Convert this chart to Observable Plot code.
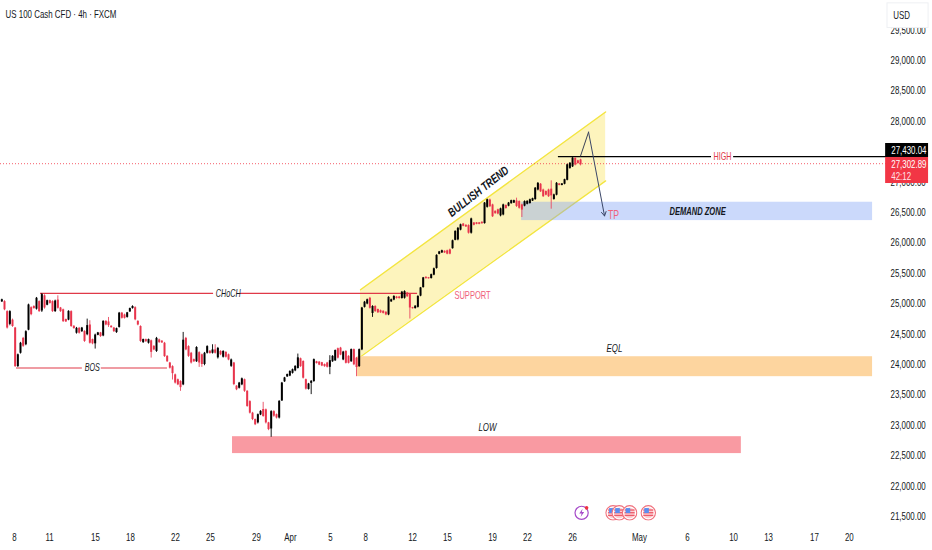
<!DOCTYPE html>
<html><head><meta charset="utf-8">
<style>html,body{margin:0;padding:0;background:#fff;overflow:hidden}svg{display:block}</style>
<script src="https://cdn.jsdelivr.net/npm/d3@7"></script>
<script src="https://cdn.jsdelivr.net/npm/@observablehq/plot@0.6"></script>
</head><body><div id="chart"></div>
<script>
const opens=[25030,25035,24870,24660,24730,24600,23965,24185,24430,24325,24565,24935,24955,24910,25035,24880,25130,24975,25050,25035,24870,25060,24930,24900,24740,24730,24870,24630,24515,24595,24540,24545,24490,24650,24410,24340,24480,24520,24470,24710,24700,24630,24600,24525,24610,24845,24815,24775,24865,24920,24935,24710,24625,24360,24410,24350,24390,24300,24215,24405,24385,24350,24135,24025,23965,23830,23750,23720,23665,24430,24295,24185,24080,24045,24195,24160,24000,24185,24220,24185,24240,24110,24215,24120,24200,24160,23970,24025,23645,23610,23665,23750,23560,23390,23200,23095,23040,23170,23260,23255,23040,22940,23225,23175,23120,23400,23715,23795,23810,23855,23895,23935,24095,24050,23750,23590,23690,23720,24045,24040,24030,24000,24025,23954,24045,24060,24260,24270,24075,24215,24135,24045,24245,24105,23965,24240,24940,24995,25090,24840,24955,24905,24885,24875,24860,24815,25030,25060,25110,25110,25085,25090,25175,25160,24935,24920,24940,25125,25265,25435,25428,25415,25470,25580,25812,25835,25862,25870,25885,25905,26042,26050,26210,26310,26290,26285,26160,26328,26330,26330,26340,26318,26585,26705,26625,26520,26545,26445,26460,26615,26605,26645,26655,26690,26680,26625,26605,26635,26648,26688,26712,26870,26965,26870,26845,26870,26884,26715,26785,26970,26945,26965,27030,27225,27250,27390,27350,27365];
const closes=[25065,24900,24600,24870,24625,23965,24160,24350,24300,24540,24980,24820,24920,25090,24870,25150,24930,25050,25005,24870,25045,24925,24870,24705,24700,24875,24625,24590,24595,24515,24600,24380,24640,24350,24340,24485,24520,24460,24710,24650,24640,24605,24540,24590,24845,24760,24760,24850,24920,24955,24735,24650,24380,24410,24375,24410,24200,24240,24430,24360,24355,24130,24045,23940,23850,23695,23665,23620,24400,24240,24135,24025,24045,24280,24025,24000,24185,24295,24180,24240,24185,24265,24160,24215,24120,24075,24075,23670,23585,23695,23765,23560,23310,23200,23095,23010,23175,23230,23145,23040,22930,23225,23150,23120,23395,23695,23780,23835,23885,23915,23970,24110,23965,23775,23595,23680,23725,24080,24015,23990,23975,23965,23955,24063,24135,24230,24105,24155,24205,24020,24020,24245,23995,23950,24245,24930,25025,25065,24925,24955,24870,24850,24850,24840,24815,25105,25065,25120,25085,25085,25190,25200,25115,24930,24918,24960,25120,25260,25425,25412,25410,25478,25575,25795,25852,25872,25835,25815,25815,26035,26190,26240,26298,26272,26262,26160,26395,26290,26305,26305,26315,26655,26710,26595,26430,26480,26475,26560,26625,26565,26655,26695,26695,26600,26570,26540,26680,26685,26710,26728,26900,26980,26840,26760,26785,26760,26774,26790,26980,26945,26970,27040,27285,27310,27395,27280,27305,27285];
const highs=[25075,25050,24885,24885,24747,24610,24172,24364,24446,24555,24993,24950,24966,25103,25048,25169,25147,25059,25059,25048,25059,25130,24939,24911,24747,24884,24884,24637,24610,24610,24610,24555,24747,24720,24418,24500,24528,24528,24720,24720,24774,24637,24610,24599,24857,24857,24829,24857,24928,24966,24950,24720,24637,24418,24418,24418,24402,24309,24446,24418,24391,24364,24145,24035,23980,23843,23761,23734,24528,24446,24309,24199,24090,24293,24210,24172,24199,24309,24227,24325,24325,24281,24227,24227,24210,24172,24090,24035,23652,23706,23778,23761,23570,23405,23214,23104,23186,23241,23378,23268,23049,23241,23241,23186,23405,23706,23789,23843,23898,23926,23980,24172,24106,24062,23761,23690,23735,24091,24052,24047,24036,24009,24036,24145,24145,24239,24271,24282,24217,24228,24145,24255,24255,24118,24255,24940,25038,25076,25104,24967,24967,24912,24896,24885,24868,25115,25076,25131,25120,25120,25202,25213,25186,25170,24940,24967,25131,25268,25432,25443,25432,25487,25586,25805,25860,25881,25870,25881,25898,26046,26199,26254,26309,26320,26298,26298,26407,26336,26336,26336,26347,26665,26720,26720,26637,26528,26555,26572,26637,26626,26665,26703,26703,26736,26692,26637,26692,26692,26720,26736,26911,26993,26977,26884,26856,26884,27021,26802,26993,26977,26977,27048,27295,27322,27404,27404,27360,27377];
const lows=[25020,24885,24583,24637,24610,23953,23953,24172,24282,24309,24555,24802,24911,24895,24857,24857,24911,24966,24993,24857,24857,24911,24857,24692,24692,24720,24610,24583,24500,24500,24528,24364,24473,24336,24325,24254,24473,24446,24457,24637,24610,24599,24528,24512,24599,24747,24747,24763,24857,24911,24720,24637,24364,24347,24364,24336,24106,24227,24199,24347,24347,24117,24035,23926,23745,23679,23652,23559,23652,24227,24117,24008,24035,24035,23953,23953,23980,24172,24172,24172,24172,24090,24145,24106,24106,24062,23953,23652,23570,23597,23652,23542,23296,23186,23077,22995,23022,23159,23132,23022,22912,22803,23132,23104,23104,23394,23706,23789,23800,23843,23882,23926,23953,23761,23580,23580,23505,23707,24009,23981,23965,23954,23943,23833,24036,24052,24091,24145,24063,24009,24009,24036,23981,23800,23954,24228,24929,24983,24912,24775,24857,24841,24841,24830,24803,24803,25022,25049,25076,25076,25076,25076,25104,24748,24912,24912,24929,25115,25257,25405,25405,25405,25460,25569,25805,25827,25827,25805,25805,25898,26035,26035,26199,26265,26254,26145,26145,26281,26298,26298,26309,26309,26572,26583,26418,26473,26462,26429,26446,26555,26594,26637,26648,26583,26555,26418,26594,26626,26637,26681,26703,26856,26829,26747,26774,26747,26555,26703,26774,26939,26939,26955,27021,27212,27240,27267,27295,27267];

const yTicks=[21500,22000,22500,23000,23500,24000,24500,25000,25500,26000,26500,27000,27500,28000,28500,29000,29500];
const xTickBars=[4.75,17.9,35.1,48.2,65.1,78.2,95.5,108.2,123.2,136.4,154,167.1,184,197.1,214,239.1,257.1,274.4,287.5,304.7,317.8];
const xTickLabels=["8","11","15","18","22","25","29","Apr","5","8","12","15","19","22","26","May","6","10","13","17","20"];

const channelBars=[134.5,226.4];
const channelTop=[25229,28154];
const channelBottom=[24129,27020];
const flagBars=[229.2,231.5,235.4,242.4];
const eventPrice=21560;

const candles=opens.map((o,i)=>({i,o,c:closes[i],h:highs[i],l:lows[i]}));
const up=candles.filter(d=>d.c>=d.o), down=candles.filter(d=>d.c<d.o);
const channel=channelBars.map((x,k)=>({x,t:channelTop[k],b:channelBottom[k]}));
const svgUri=s=>"data:image/svg+xml,"+encodeURIComponent(s);
const flagSvg=svgUri(`<svg xmlns='http://www.w3.org/2000/svg' viewBox='0 0 16 16' width='16' height='16'><circle cx='8' cy='8' r='7.2' fill='#fff' stroke='#f0707c' stroke-width='1.1'/><circle cx='8' cy='8' r='5.4' fill='#fbd0d4'/><rect x='3' y='4.5' width='10' height='1.3' fill='#ee5a68'/><rect x='3' y='7.2' width='10' height='1.3' fill='#ee5a68'/><rect x='3' y='9.9' width='10' height='1.3' fill='#ee5a68'/><rect x='4' y='3.2' width='4.6' height='5' fill='#5b8def'/></svg>`);
const boltSvg=svgUri(`<svg xmlns='http://www.w3.org/2000/svg' viewBox='0 0 16 16' width='16' height='16'><circle cx='8' cy='8' r='6.6' fill='#fff' stroke='#a64bc9' stroke-width='1.2'/><path d='M9 3.8 5.6 8.6H8L7 12.2 10.6 7.2H8.2z' fill='#a64bc9'/><circle cx='13' cy='3' r='1.8' fill='#ef3340'/></svg>`);

const FONT="'Liberation Sans',sans-serif";
const INK="#131722", RED="#e03a48", PINK="#f0607a";
const label=(t,x,y,o={})=>Plot.text([t],{x:()=>x,y:()=>y,text:d=>d,fontFamily:FONT,fontSize:11,fill:INK,...o});

const chart=Plot.plot({
  width:932,height:550,marginLeft:0,marginRight:45,marginTop:0,marginBottom:22,
  style:{background:"#fff",fontFamily:FONT},
  x:{domain:[-0.5,332.1],axis:null},
  y:{domain:[21303,29987],axis:null},
  marks:[
    Plot.areaY(channel,{x:"x",y1:"b",y2:"t",fill:"#fbe45a",fillOpacity:0.4}),
    Plot.line(channel,{x:"x",y:"t",stroke:"#f3e53f",strokeWidth:1.3}),
    Plot.line(channel,{x:"x",y:"b",stroke:"#f3e53f",strokeWidth:1.3}),
    Plot.rect([0],{x1:()=>194.9,x2:()=>326.5,y1:()=>26669,y2:()=>26367,fill:"#7c9ff5",fillOpacity:0.4}),
    Plot.rect([0],{x1:()=>133.4,x2:()=>326.5,y1:()=>24128,y2:()=>23800,fill:"#fdd59f"}),
    Plot.rect([0],{x1:()=>86.5,x2:()=>277.3,y1:()=>22813,y2:()=>22535,fill:"#f99aa2"}),
    Plot.ruleY([27302.89],{x1:()=>-0.5,x2:()=>332.1,stroke:"#f23645",strokeWidth:0.8,strokeDasharray:"1,2"}),
    Plot.ruleY([25169],{x1:()=>14.5,x2:()=>79.4,stroke:RED,strokeWidth:1.2}),
    Plot.ruleY([25169],{x1:()=>89.5,x2:()=>155.9,stroke:RED,strokeWidth:1.2}),
    Plot.ruleY([23943],{x1:()=>5.5,x2:()=>30.2,stroke:RED,strokeWidth:1.2}),
    Plot.ruleY([23943],{x1:()=>37.3,x2:()=>62.1,stroke:RED,strokeWidth:1.2}),
    Plot.ruleY([27420],{x1:()=>208.7,x2:()=>266.1,stroke:"#000",strokeWidth:1.4}),
    Plot.ruleY([27420],{x1:()=>274.4,x2:()=>332.1,stroke:"#000",strokeWidth:1.4}),
    Plot.ruleX(up,{x:"i",y1:"l",y2:"h",stroke:"#000",strokeWidth:0.9}),
    Plot.ruleX(down,{x:"i",y1:"l",y2:"h",stroke:"#ea4a60",strokeWidth:0.9}),
    Plot.ruleX(up,{x:"i",y1:"o",y2:"c",stroke:"#000",strokeWidth:2}),
    Plot.ruleX(down,{x:"i",y1:"o",y2:"c",stroke:"#e8344c",strokeWidth:2}),
    Plot.line([[217,27430],[220,27822]],{x:"0",y:"1",stroke:"#3c4256",strokeWidth:1}),
    Plot.arrow([0],{x1:()=>220,y1:()=>27822,x2:()=>226,y2:()=>26443,stroke:"#3a4668",strokeWidth:1,headLength:7,bend:0}),
    label("CHoCH",84.9,25165,{fontStyle:"italic",fontSize:10}),
    label("BOS",33.9,23943,{fontStyle:"italic",fontSize:10}),
    label("BULLISH TREND",178.7,26845,{fontStyle:"italic",fontWeight:"bold",fontSize:12,rotate:-38}),
    label("SUPPORT",176.5,25134,{fill:PINK,fontSize:10.5}),
    label("TP",229.4,26462,{fill:PINK,fontSize:12}),
    label("DEMAND ZONE",260.9,26521,{fontStyle:"italic",fontWeight:"bold",fontSize:10.5}),
    label("HIGH",270.2,27415,{fill:RED,fontSize:10}),
    label("EQL",229.7,24265,{fontStyle:"italic",fontSize:11}),
    label("LOW",182.1,22965,{fontStyle:"italic",fontSize:11}),
    Plot.axisY({anchor:"right",ticks:yTicks,tickSize:0,tickPadding:3,label:null,tickFormat:d3.format(",.2f"),fontSize:11,fill:INK}),
    Plot.axisX({anchor:"bottom",ticks:xTickBars,tickSize:0,tickPadding:5,label:null,tickFormat:d=>xTickLabels[xTickBars.indexOf(d)],fontSize:11,fill:INK}),
    Plot.image([0],{x:()=>217.4,y:()=>eventPrice,src:()=>boltSvg,width:16,height:16}),
    Plot.image(flagBars,{x:d=>d,y:()=>eventPrice,src:()=>flagSvg,width:16,height:16}),
    Plot.rect([0],{x1:()=>331.4,x2:()=>347.5,y1:()=>27635,y2:()=>27405,fill:"#000"}),
    Plot.rect([0],{x1:()=>331.4,x2:()=>347.5,y1:()=>27405,y2:()=>26977,fill:"#f23645"}),
    label("27,430.04",333.5,27528,{fill:"#fff",textAnchor:"start"}),
    label("27,302.89",333.5,27296,{fill:"#fff",textAnchor:"start"}),
    label("42:12",333.5,27100,{fill:"#ffe1e5",textAnchor:"start"}),
    Plot.rect([0],{x1:()=>332.1,x2:()=>347.5,y1:()=>29940,y2:()=>29535,fill:"#fff",stroke:"#eef0f3"}),
    label("USD",334.3,29740,{textAnchor:"start"}),
    label("US 100 Cash CFD · 4h · FXCM",1.4,29752,{textAnchor:"start"})
  ]
});
document.getElementById("chart").append(chart);
// The reference's type is condensed: squeeze each real text along its own baseline about its anchor.
chart.querySelectorAll("text").forEach(el=>{
  const f=el.textContent==="BULLISH TREND"?0.76:0.72;
  const x=+el.getAttribute("x")||0, y=+el.getAttribute("y")||0;
  const prior=el.getAttribute("transform")||"";
  el.setAttribute("transform",`${prior} translate(${x},${y}) scale(${f},1) translate(${-x},${-y})`);
});
</script></body></html>
